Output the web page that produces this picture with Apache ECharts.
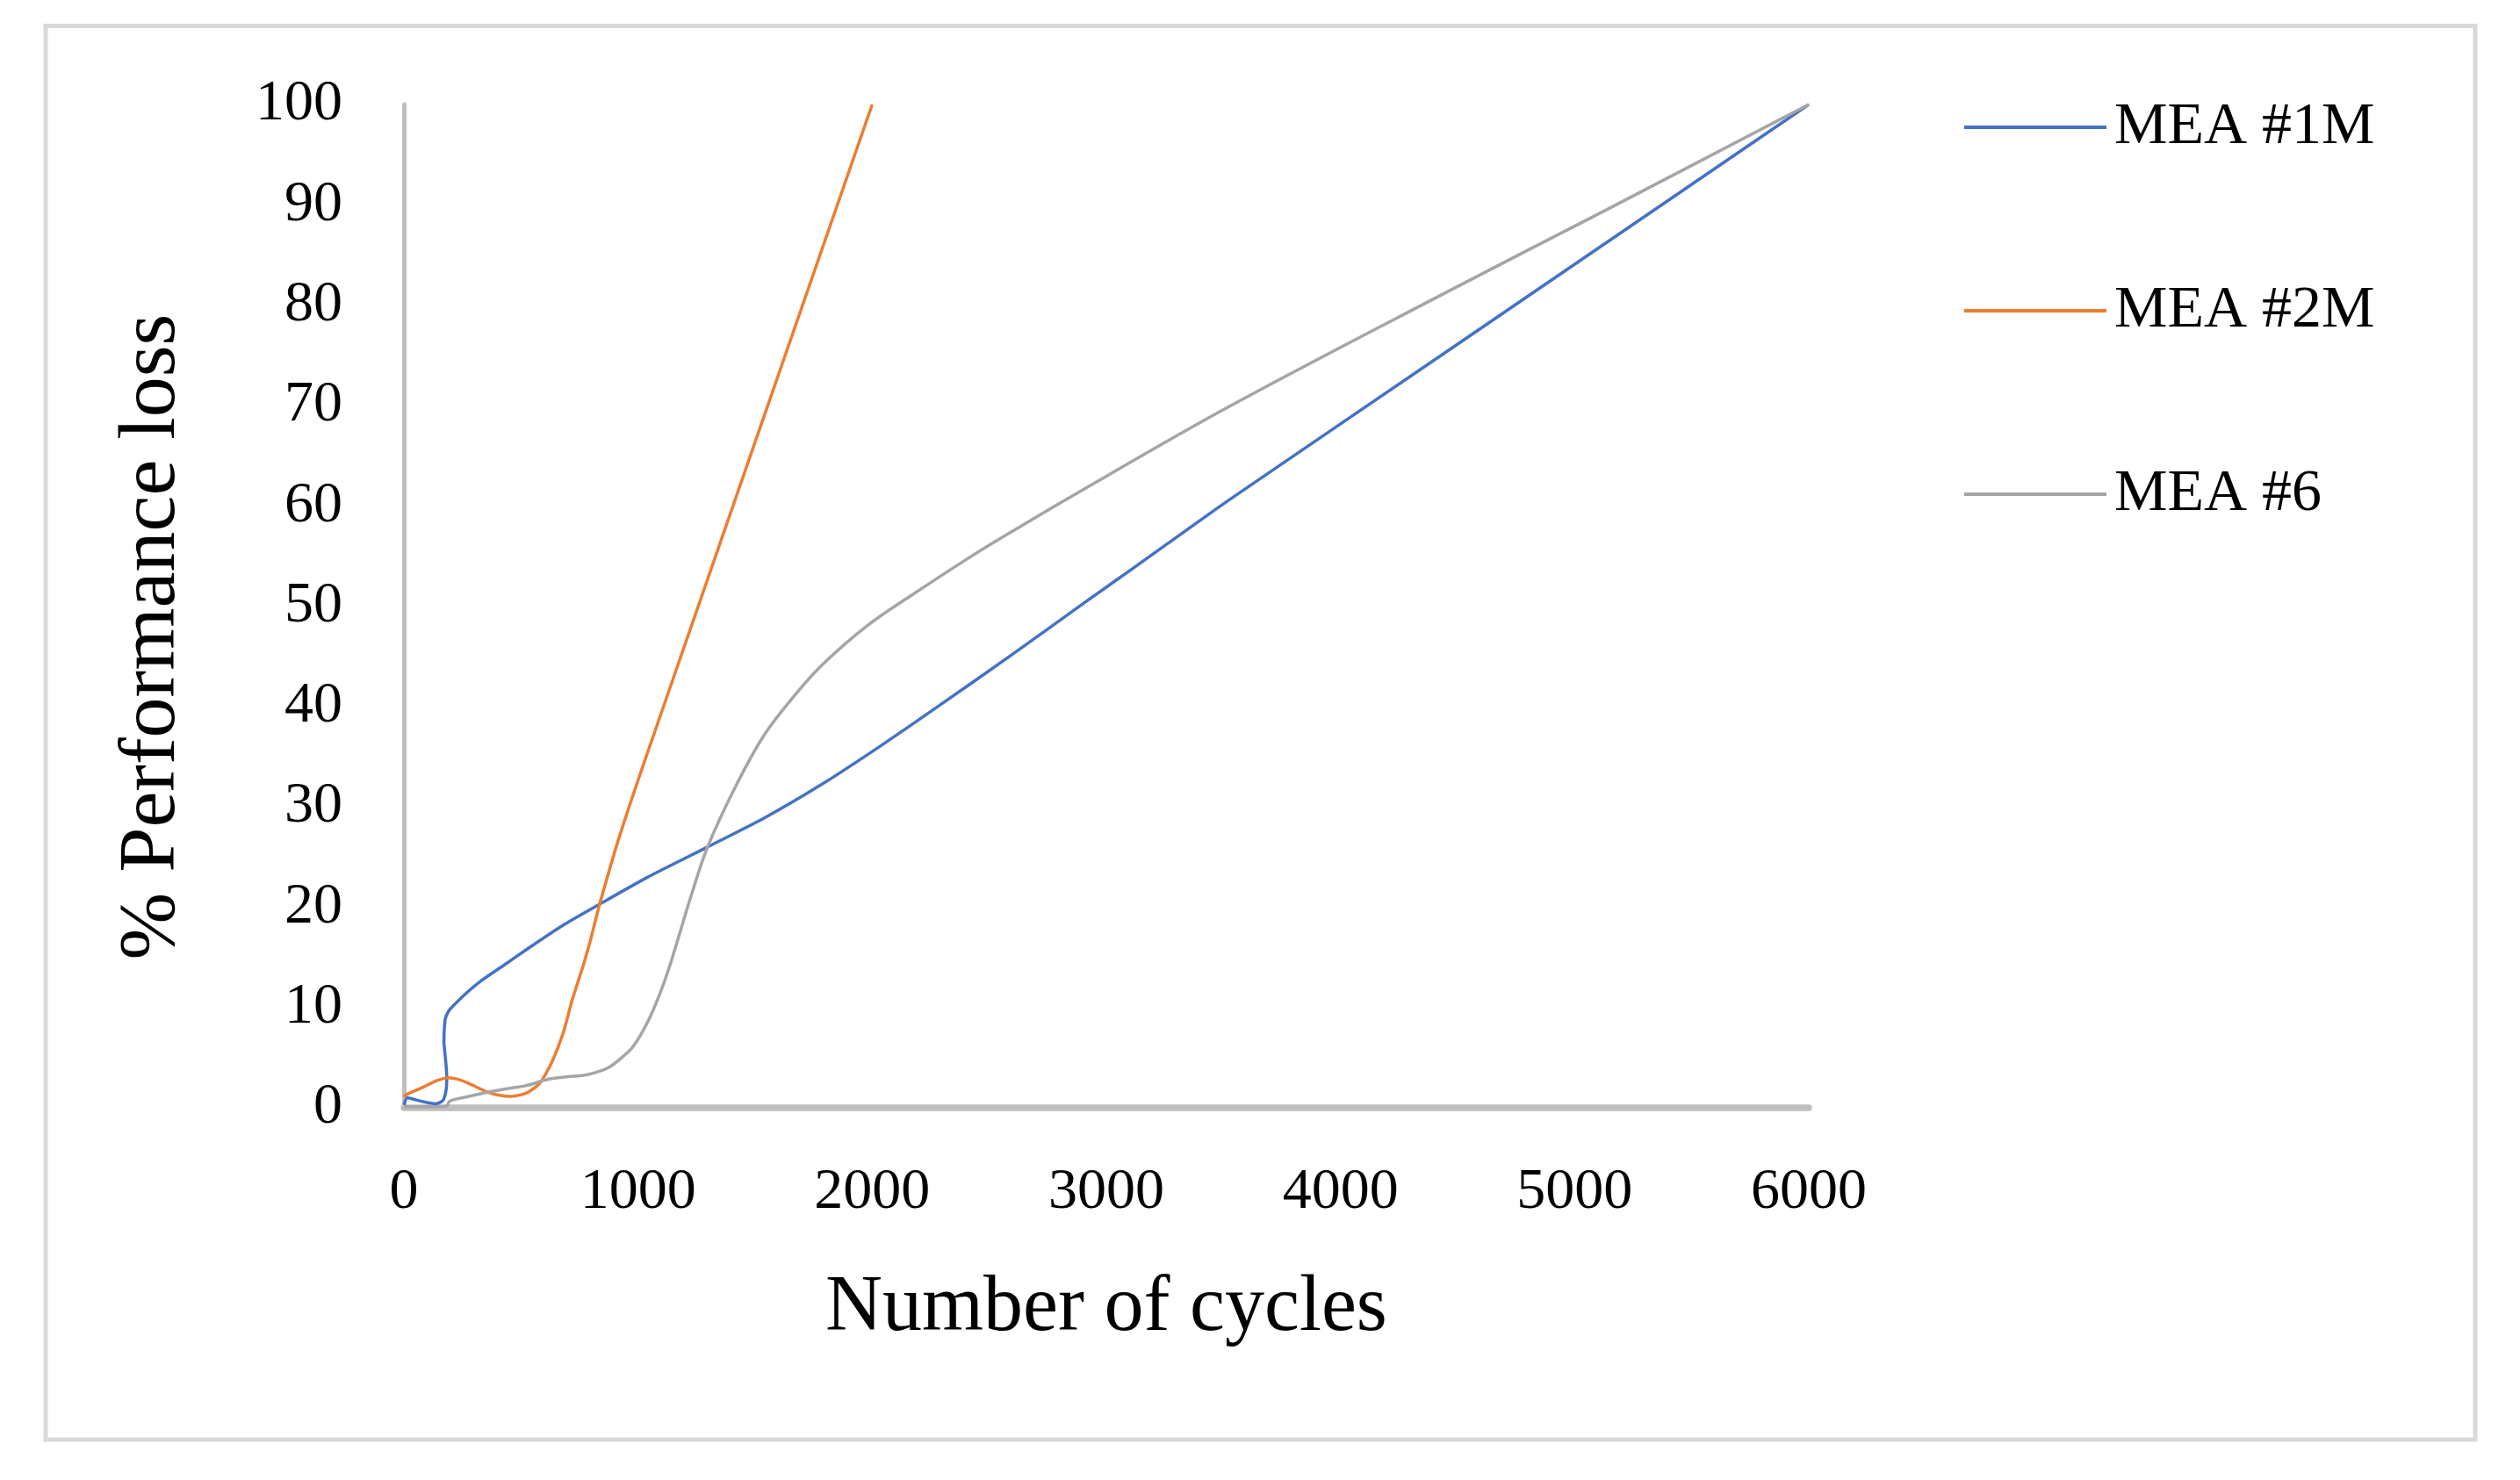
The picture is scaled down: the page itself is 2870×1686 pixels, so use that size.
<!DOCTYPE html>
<html>
<head>
<meta charset="utf-8">
<script src="https://cdn.jsdelivr.net/npm/echarts@6/dist/echarts.min.js"></script>
<style>
html,body{margin:0;padding:0;background:#fff;}
#chart{width:2870px;height:1686px;}
</style>
</head>
<body>
<div id="chart"></div>
<script>
// ---- data ----
var seriesNames = ['MEA #1M', 'MEA #2M', 'MEA #6'];

var mea1mCycles = [0, 15, 50, 83, 133, 160, 171, 181, 183, 181, 175, 171, 173, 177, 190, 208, 270, 332, 426, 519, 687, 836, 1042, 1297, 1540, 1789, 2038, 2287, 2587, 2910, 3134, 3525, 4462, 5385, 6000];
var mea1mLoss   = [0.3, 1.0, 0.8, 0.6, 0.4, 0.6, 0.9, 1.9, 3.0, 4.0, 5.5, 6.6, 8.0, 8.9, 9.6, 10.1, 11.5, 12.7, 14.2, 15.7, 18.3, 20.3, 23.0, 26.0, 28.9, 32.3, 36.1, 40.1, 45.0, 50.4, 54.1, 60.6, 75.5, 90.2, 100];

var mea2mCycles = [0, 9, 83, 140, 189, 230, 270, 357, 410, 457, 500, 532, 582, 631, 681, 718, 766, 800, 836, 920, 1042, 2000];
var mea2mLoss   = [1.1, 1.3, 2.07, 2.7, 3.0, 2.85, 2.5, 1.57, 1.25, 1.14, 1.3, 1.57, 2.5, 4.5, 7.5, 10.7, 14.2, 17.0, 20.3, 27.0, 35.5, 100];

var mea6Cycles = [0, 100, 180, 196, 270, 357, 440, 519, 619, 700, 768, 830, 880, 930, 980, 1042, 1092, 1136, 1229, 1297, 1416, 1540, 1665, 1789, 1976, 2163, 2412, 2587, 2848, 3525, 4462, 5144, 6000];
var mea6Loss   = [0.1, 0.1, 0.15, 0.67, 1.1, 1.55, 1.9, 2.2, 2.86, 3.1, 3.24, 3.6, 4.1, 5.0, 6.15, 8.6, 11.3, 14.2, 21.3, 26.0, 32.0, 37.2, 41.0, 44.2, 48.0, 51.0, 54.8, 57.3, 60.9, 69.9, 81.4, 89.6, 100];

var xTicks = [0, 1000, 2000, 3000, 4000, 5000, 6000];
var yTicks = [0, 10, 20, 30, 40, 50, 60, 70, 80, 90, 100];

var xName = 'Number of cycles';
var yName = '% Performance loss';

// ---- build ----
function pairs(xs, ys) {
  var out = [];
  for (var i = 0; i < xs.length; i++) out.push([xs[i], ys[i]]);
  return out;
}
var colors = ['#4472C4', '#ED7D31', '#A5A5A5'];
var smoothing = [0.2, 0.2, 0.35];
var dataSets = [pairs(mea1mCycles, mea1mLoss), pairs(mea2mCycles, mea2mLoss), pairs(mea6Cycles, mea6Loss)];
var FONT = 'Liberation Serif';

var chart = echarts.init(document.getElementById('chart'), null, {renderer: 'canvas'});
chart.setOption({
  animation: false,
  backgroundColor: '#ffffff',
  graphic: [{
    type: 'rect',
    shape: {x: 52, y: 29.5, width: 2767, height: 1610.5},
    style: {fill: 'none', stroke: '#d9d9d9', lineWidth: 5},
    z: -10
  }],
  grid: {left: 460, right: 810, top: 119, bottom: 424, containLabel: false},
  legend: {
    orient: 'vertical',
    left: 2232,
    top: 100,
    icon: 'rect',
    itemWidth: 162,
    itemHeight: 4,
    itemGap: 129,
    data: seriesNames,
    textStyle: {fontFamily: FONT, fontSize: 68, color: '#000', lineHeight: 80, padding: [0, 0, 0, 4]}
  },
  xAxis: {
    type: 'value',
    min: xTicks[0],
    max: xTicks[xTicks.length - 1],
    interval: xTicks[1] - xTicks[0],
    name: xName,
    nameLocation: 'middle',
    nameGap: 184,
    nameTextStyle: {fontFamily: FONT, fontSize: 90, color: '#000'},
    axisLine: {show: true, onZero: true, lineStyle: {color: '#bfbfbf', width: 7.5}},
    axisTick: {show: false},
    splitLine: {show: false},
    axisLabel: {fontFamily: FONT, fontSize: 66, color: '#000', margin: 64,
      formatter: function (v) { return String(v); }}
  },
  yAxis: {
    type: 'value',
    min: yTicks[0],
    max: yTicks[yTicks.length - 1],
    interval: yTicks[1] - yTicks[0],
    name: yName,
    nameLocation: 'middle',
    nameGap: 240,
    nameTextStyle: {fontFamily: FONT, fontSize: 92, color: '#000', padding: [0, 70, 0, 0]},
    axisLine: {show: true, lineStyle: {color: '#bfbfbf', width: 5}},
    axisTick: {show: false},
    splitLine: {show: false},
    axisLabel: {fontFamily: FONT, fontSize: 66, color: '#000', margin: 70,
      formatter: function (v) { return String(v); }}
  },
  series: seriesNames.map(function (n, i) {
    return {
      name: n,
      type: 'line',
      data: dataSets[i],
      showSymbol: false,
      symbol: 'none',
      smooth: smoothing[i],
      lineStyle: {color: colors[i], width: 3.5},
      itemStyle: {color: colors[i]},
      z: 3
    };
  })
});
</script>
</body>
</html>
